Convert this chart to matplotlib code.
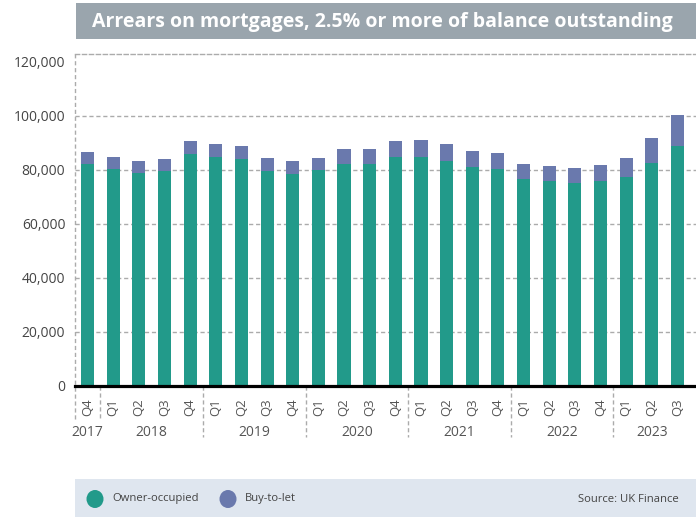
import numpy as np
import matplotlib
matplotlib.use("Agg")
import matplotlib.pyplot as plt
from matplotlib.patches import Rectangle, Ellipse
from matplotlib.ticker import FuncFormatter

plt.rcParams['font.family'] = ['Open Sans', 'DejaVu Sans']

# data (number of mortgages)
quarters = ['Q4',
            'Q1', 'Q2', 'Q3', 'Q4',
            'Q1', 'Q2', 'Q3', 'Q4',
            'Q1', 'Q2', 'Q3', 'Q4',
            'Q1', 'Q2', 'Q3', 'Q4',
            'Q1', 'Q2', 'Q3', 'Q4',
            'Q1', 'Q2', 'Q3']
period_year = [2017] + [2018] * 4 + [2019] * 4 + [2020] * 4 + [2021] * 4 + [2022] * 4 + [2023] * 3
owner_occupied = [82200, 80300, 78800, 79500, 85900, 84700, 84000, 79500,
                  78500, 80000, 82200, 82200, 84700, 84700, 83200, 81000,
                  80300, 76600, 75800, 75100, 75800, 77300, 82500, 88800]
buy_to_let = [4400, 4400, 4400, 4500, 4700, 4800, 4800, 4800,
              4700, 4300, 5500, 5500, 5900, 6300, 6300, 5900,
              5900, 5500, 5600, 5500, 5900, 7000, 9200, 11500]

title = "Arrears on mortgages, 2.5% or more of balance outstanding"
source = "Source: UK Finance"

GREEN = '#229A8A'
BLUE = '#6A79AD'
GRID = '#ABABAB'
TEXT = '#444444'

W, H = 696, 518
fig = plt.figure(figsize=(W / 100, H / 100), dpi=100)

# background layer in pixel coordinates for the title strip and legend strip
bg = fig.add_axes([0, 0, 1, 1])
bg.set_xlim(0, W)
bg.set_ylim(H, 0)
bg.axis('off')

bg.add_patch(Rectangle((76, 3.3), W - 76, 36, color='#9AA5AD', lw=0))
bg.text(92, 21.5, title, color='white', fontsize=14, fontweight='bold',
        va='center', ha='left')

bg.add_patch(Rectangle((75, 479.3), W - 75, 38, color='#DFE6EF', lw=0))
bg.add_patch(Ellipse((95, 499), 17, 18, color=GREEN, lw=0))
bg.text(112, 499, 'Owner-occupied', fontsize=8.1, color=TEXT, va='center', ha='left')
bg.add_patch(Ellipse((228, 499), 17, 18, color=BLUE, lw=0))
bg.text(245, 499, 'Buy-to-let', fontsize=8.1, color=TEXT, va='center', ha='left')
bg.text(679, 499, source, fontsize=8.1, color=TEXT, va='center', ha='right')

# main chart
ax_l, ax_r, ax_t, ax_b = 75, 696, 54, 385.7
ax = fig.add_axes([ax_l / W, 1 - ax_b / H, (ax_r - ax_l) / W, (ax_b - ax_t) / H])
ax.set_facecolor('none')

x = np.arange(len(quarters))
ax.bar(x, owner_occupied, width=0.51, color=GREEN, zorder=3)
ax.bar(x, buy_to_let, bottom=owner_occupied, width=0.51, color=BLUE, zorder=3)

ax.set_xlim(-0.487, 23.72)
ax.set_ylim(0, 122850)

yticks = np.arange(0, 120001, 20000)
ax.set_yticks(yticks)
ax.yaxis.set_major_formatter(FuncFormatter(lambda v, p: f'{int(v):,}'))
ax.tick_params(axis='y', length=0, pad=7, labelsize=10, labelcolor=TEXT)
for v in yticks[1:-1]:
    ax.axhline(v, color=GRID, lw=1, ls=(0, (3, 2)), zorder=1)

ax.set_xticks(x, quarters, rotation=90)
ax.tick_params(axis='x', length=0, pad=9, labelsize=9.5, labelcolor='#555555')

for side in ['left', 'right']:
    ax.spines[side].set_visible(False)
ax.spines['top'].set_color(GRID)
ax.spines['top'].set_linewidth(1)
ax.spines['top'].set_linestyle((0, (3, 2)))
ax.spines['bottom'].set_color('black')
ax.spines['bottom'].set_linewidth(2.3)
ax.spines['bottom'].set_zorder(4)

ax_h = ax_b - ax_t
trans = ax.get_xaxis_transform()

# left frame line, running down into the label area
x0 = ax.get_xlim()[0]
ax.plot([x0, x0], [-(419 - ax_b) / ax_h, 1], transform=trans, color=GRID,
        lw=1, ls=(0, (3, 2)), clip_on=False, zorder=1)

# year separators and year labels
period_year = np.array(period_year)
year_list = sorted(set(period_year))
for i, yr in enumerate(year_list):
    idx = x[period_year == yr]
    ax.text(idx.mean(), -(433 - ax_b) / ax_h, str(yr), transform=trans,
            ha='center', va='center', fontsize=10, color='#555555')
    if i > 0:
        sep = idx[0] - 0.5
        low = 419 if i == 1 else 437
        ax.plot([sep, sep], [0, -(low - ax_b) / ax_h], transform=trans,
                color=GRID, lw=1, ls=(0, (3, 2)), clip_on=False)

fig.savefig('out.png', dpi=100)
